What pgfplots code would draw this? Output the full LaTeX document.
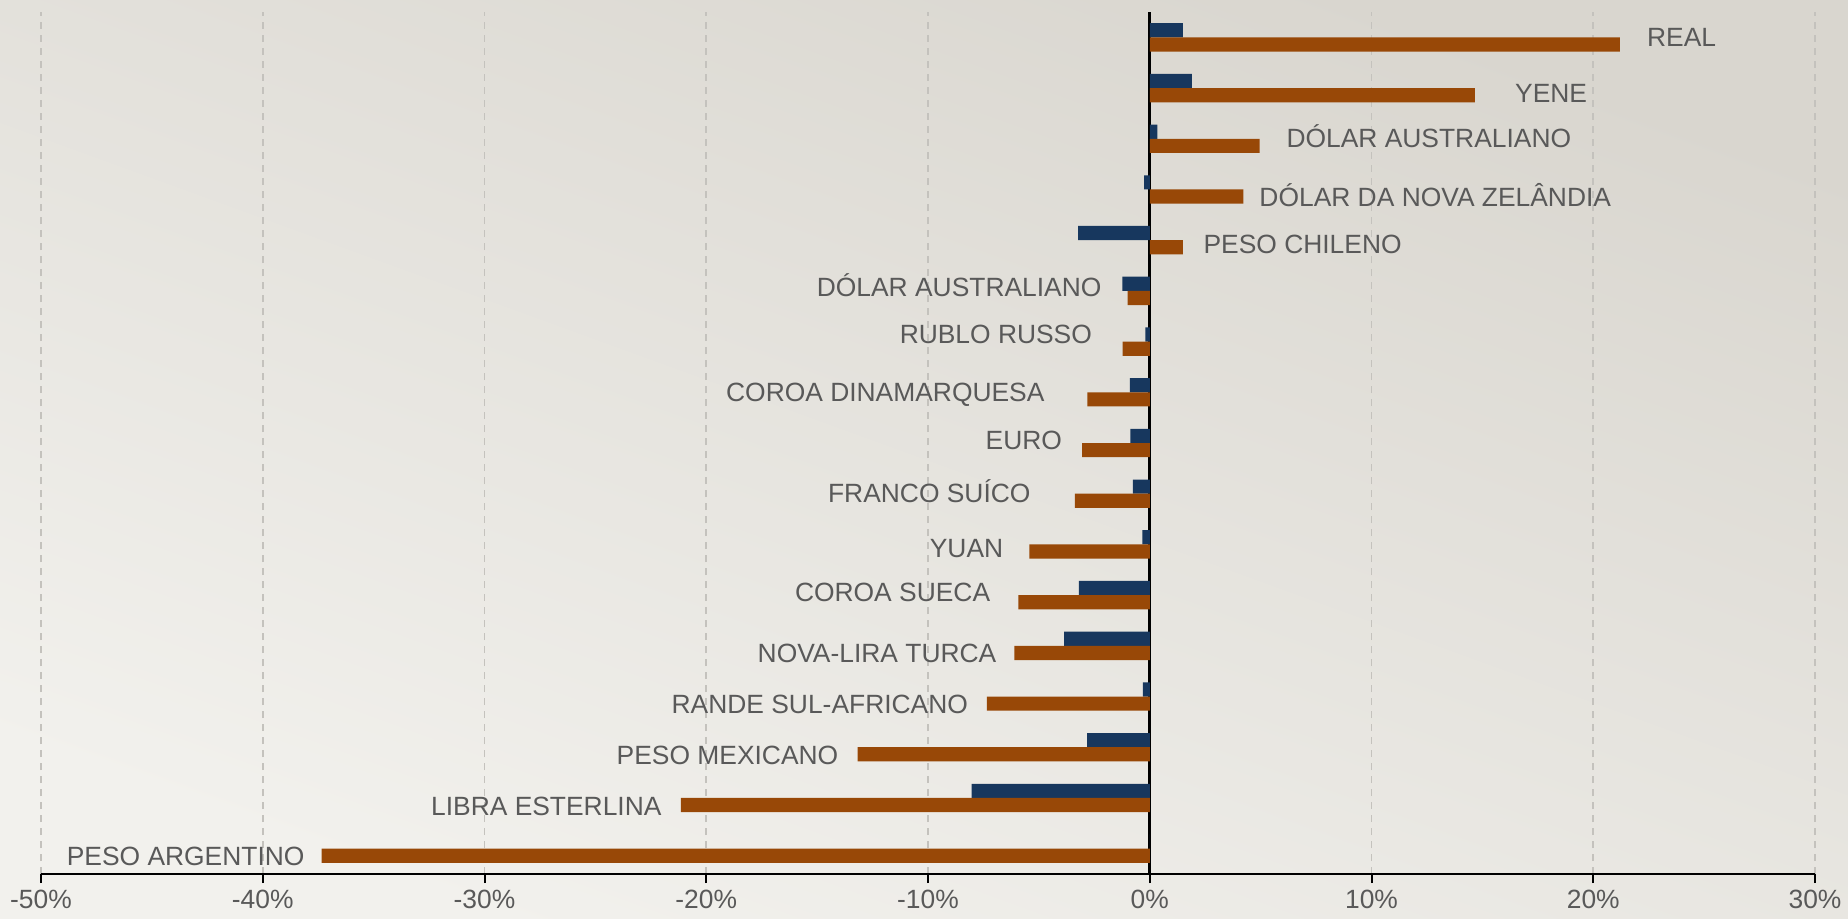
\documentclass[border=0pt]{standalone}
\usepackage{pgfplots}
\pgfplotsset{compat=1.18}
\usepackage{fontspec}
\setmainfont{Liberation Sans}
\definecolor{navy}{HTML}{17375E}
\definecolor{rust}{HTML}{984807}
\definecolor{txt}{HTML}{595959}
\definecolor{grd}{HTML}{C4C2BD}
\definecolor{bgtop}{HTML}{D9D6CF}
\definecolor{bgbot}{HTML}{F2F1ED}
\begin{document}
\begin{tikzpicture}
\shade[top color=bgtop, bottom color=bgbot, shading angle=-20] (0,0) rectangle (924pt,459pt);
\begin{axis}[
  at={(20.5pt,22pt)}, anchor=south west,
  scale only axis, width=887pt, height=431pt,
  xmin=-50, xmax=30, ymin=-0.5, ymax=16.5,
  axis x line*=bottom, axis y line=none,
  axis line style={black, line width=1pt},
  xtick={-50,-40,...,30}, ytick=\empty,
  tick align=outside, major tick length=4.5pt,
  tick style={black, line width=1pt},
  xmajorgrids,
  major grid style={grd, line width=0.9pt, dash pattern=on 3.5pt off 3pt},
  extra x ticks={0}, extra x tick labels={},
  extra x tick style={major grid style={black, solid, line width=1.6pt}},
  xticklabel={\pgfmathprintnumber[assume math mode=true]{\tick}\%},
  xticklabel style={font=\fontsize{13.2}{16}\selectfont, text=txt},
  clip=false,
]
\addplot[xbar, bar width=0.28, bar shift=0.14, fill=navy, draw=none] coordinates {
 (0,0) (-8.03,1) (-2.83,2) (-0.31,3) (-3.86,4) (-3.2,5) (-0.33,6) (-0.76,7) (-0.87,8)
 (-0.9,9) (-0.2,10) (-1.23,11) (-3.23,12) (-0.25,13) (0.34,14) (1.9,15) (1.49,16)
};
\addplot[xbar, bar width=0.28, bar shift=-0.14, fill=rust, draw=none] coordinates {
 (-37.34,0) (-21.14,1) (-13.17,2) (-7.34,3) (-6.1,4) (-5.93,5) (-5.43,6) (-3.38,7) (-3.05,8)
 (-2.81,9) (-1.22,10) (-1.0,11) (1.49,12) (4.22,13) (4.95,14) (14.66,15) (21.2,16)
};
\begin{scope}[every node/.style={inner sep=0pt, text=txt, font=\fontsize{13.2}{16}\selectfont}]
\node[anchor=base west] at (axis cs:22.41,15.82) {REAL};
\node[anchor=base west] at (axis cs:16.46,14.72) {YENE};
\node[anchor=base west] at (axis cs:6.15,13.83) {DÓLAR AUSTRALIANO};
\node[anchor=base west] at (axis cs:4.93,12.67) {DÓLAR DA NOVA ZELÂNDIA};
\node[anchor=base west] at (axis cs:2.41,11.74) {PESO CHILENO};
\node[anchor=base east] at (axis cs:-2.16,10.88) {DÓLAR AUSTRALIANO};
\node[anchor=base east] at (axis cs:-2.59,9.97) {RUBLO RUSSO};
\node[anchor=base east] at (axis cs:-4.73,8.81) {COROA DINAMARQUESA};
\node[anchor=base east] at (axis cs:-3.94,7.88) {EURO};
\node[anchor=base east] at (axis cs:-5.36,6.82) {FRANCO SUÍCO};
\node[anchor=base east] at (axis cs:-6.59,5.75) {YUAN};
\node[anchor=base east] at (axis cs:-7.18,4.87) {COROA SUECA};
\node[anchor=base east] at (axis cs:-6.9,3.68) {NOVA-LIRA TURCA};
\node[anchor=base east] at (axis cs:-8.18,2.66) {RANDE SUL-AFRICANO};
\node[anchor=base east] at (axis cs:-14.03,1.66) {PESO MEXICANO};
\node[anchor=base east] at (axis cs:-22.0,0.65) {LIBRA ESTERLINA};
\node[anchor=base east] at (axis cs:-38.1,-0.33) {PESO ARGENTINO};
\end{scope}
\end{axis}
\pgfresetboundingbox
\path (0,0) rectangle (924pt,459pt);
\end{tikzpicture}
\end{document}
